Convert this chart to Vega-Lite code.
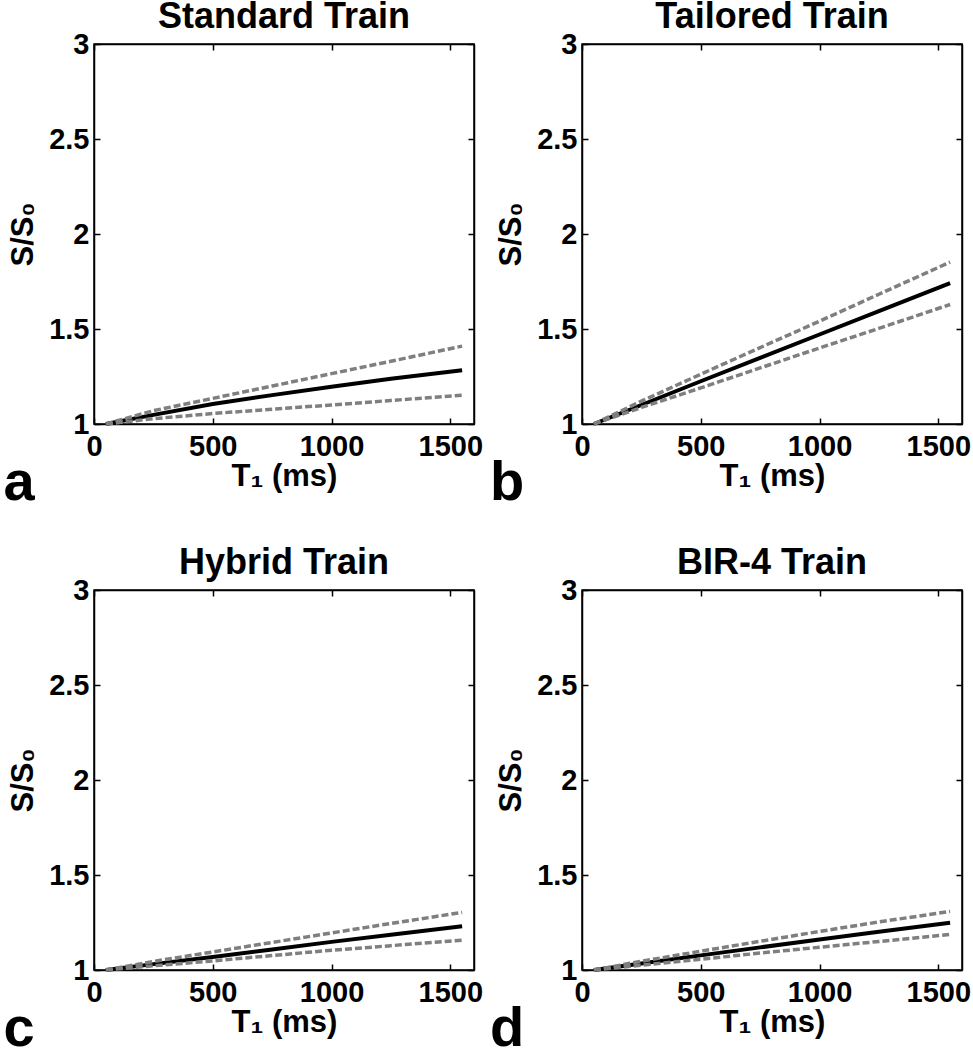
{
  "$schema": "https://vega.github.io/schema/vega-lite/v6.json",
  "padding": {"left": 2, "top": -2, "right": 0, "bottom": 0},
  "background": "white",
  "data": {"values": [
    {"panel": "a", "series": "mean", "t1": 50, "s": 1.0},
    {"panel": "a", "series": "mean", "t1": 250, "s": 1.048},
    {"panel": "a", "series": "mean", "t1": 500, "s": 1.105},
    {"panel": "a", "series": "mean", "t1": 750, "s": 1.152},
    {"panel": "a", "series": "mean", "t1": 1000, "s": 1.196},
    {"panel": "a", "series": "mean", "t1": 1250, "s": 1.238},
    {"panel": "a", "series": "mean", "t1": 1550, "s": 1.283},
    {"panel": "a", "series": "upper", "t1": 50, "s": 1.0},
    {"panel": "a", "series": "upper", "t1": 250, "s": 1.07},
    {"panel": "a", "series": "upper", "t1": 500, "s": 1.135},
    {"panel": "a", "series": "upper", "t1": 750, "s": 1.2},
    {"panel": "a", "series": "upper", "t1": 1000, "s": 1.265},
    {"panel": "a", "series": "upper", "t1": 1250, "s": 1.33},
    {"panel": "a", "series": "upper", "t1": 1550, "s": 1.41},
    {"panel": "a", "series": "lower", "t1": 50, "s": 1.0},
    {"panel": "a", "series": "lower", "t1": 250, "s": 1.028},
    {"panel": "a", "series": "lower", "t1": 500, "s": 1.055},
    {"panel": "a", "series": "lower", "t1": 750, "s": 1.078},
    {"panel": "a", "series": "lower", "t1": 1000, "s": 1.1},
    {"panel": "a", "series": "lower", "t1": 1250, "s": 1.124},
    {"panel": "a", "series": "lower", "t1": 1550, "s": 1.152},
    {"panel": "b", "series": "mean", "t1": 50, "s": 1.0},
    {"panel": "b", "series": "mean", "t1": 250, "s": 1.1},
    {"panel": "b", "series": "mean", "t1": 500, "s": 1.225},
    {"panel": "b", "series": "mean", "t1": 750, "s": 1.348},
    {"panel": "b", "series": "mean", "t1": 1000, "s": 1.471},
    {"panel": "b", "series": "mean", "t1": 1250, "s": 1.594},
    {"panel": "b", "series": "mean", "t1": 1550, "s": 1.742},
    {"panel": "b", "series": "upper", "t1": 50, "s": 1.0},
    {"panel": "b", "series": "upper", "t1": 250, "s": 1.12},
    {"panel": "b", "series": "upper", "t1": 500, "s": 1.262},
    {"panel": "b", "series": "upper", "t1": 750, "s": 1.402},
    {"panel": "b", "series": "upper", "t1": 1000, "s": 1.541},
    {"panel": "b", "series": "upper", "t1": 1250, "s": 1.683},
    {"panel": "b", "series": "upper", "t1": 1550, "s": 1.852},
    {"panel": "b", "series": "lower", "t1": 50, "s": 1.0},
    {"panel": "b", "series": "lower", "t1": 250, "s": 1.087},
    {"panel": "b", "series": "lower", "t1": 500, "s": 1.19},
    {"panel": "b", "series": "lower", "t1": 750, "s": 1.295},
    {"panel": "b", "series": "lower", "t1": 1000, "s": 1.4},
    {"panel": "b", "series": "lower", "t1": 1250, "s": 1.503},
    {"panel": "b", "series": "lower", "t1": 1550, "s": 1.629},
    {"panel": "c", "series": "mean", "t1": 50, "s": 1.0},
    {"panel": "c", "series": "mean", "t1": 250, "s": 1.031},
    {"panel": "c", "series": "mean", "t1": 500, "s": 1.069},
    {"panel": "c", "series": "mean", "t1": 750, "s": 1.108},
    {"panel": "c", "series": "mean", "t1": 1000, "s": 1.148},
    {"panel": "c", "series": "mean", "t1": 1250, "s": 1.186},
    {"panel": "c", "series": "mean", "t1": 1550, "s": 1.23},
    {"panel": "c", "series": "upper", "t1": 50, "s": 1.0},
    {"panel": "c", "series": "upper", "t1": 250, "s": 1.045},
    {"panel": "c", "series": "upper", "t1": 500, "s": 1.095},
    {"panel": "c", "series": "upper", "t1": 750, "s": 1.145},
    {"panel": "c", "series": "upper", "t1": 1000, "s": 1.195},
    {"panel": "c", "series": "upper", "t1": 1250, "s": 1.245},
    {"panel": "c", "series": "upper", "t1": 1550, "s": 1.303},
    {"panel": "c", "series": "lower", "t1": 50, "s": 1.0},
    {"panel": "c", "series": "lower", "t1": 250, "s": 1.022},
    {"panel": "c", "series": "lower", "t1": 500, "s": 1.048},
    {"panel": "c", "series": "lower", "t1": 750, "s": 1.076},
    {"panel": "c", "series": "lower", "t1": 1000, "s": 1.104},
    {"panel": "c", "series": "lower", "t1": 1250, "s": 1.128},
    {"panel": "c", "series": "lower", "t1": 1550, "s": 1.157},
    {"panel": "d", "series": "mean", "t1": 50, "s": 1.0},
    {"panel": "d", "series": "mean", "t1": 250, "s": 1.034},
    {"panel": "d", "series": "mean", "t1": 500, "s": 1.077},
    {"panel": "d", "series": "mean", "t1": 750, "s": 1.119},
    {"panel": "d", "series": "mean", "t1": 1000, "s": 1.161},
    {"panel": "d", "series": "mean", "t1": 1250, "s": 1.201},
    {"panel": "d", "series": "mean", "t1": 1550, "s": 1.249},
    {"panel": "d", "series": "upper", "t1": 50, "s": 1.0},
    {"panel": "d", "series": "upper", "t1": 250, "s": 1.046},
    {"panel": "d", "series": "upper", "t1": 500, "s": 1.099},
    {"panel": "d", "series": "upper", "t1": 750, "s": 1.151},
    {"panel": "d", "series": "upper", "t1": 1000, "s": 1.203},
    {"panel": "d", "series": "upper", "t1": 1250, "s": 1.253},
    {"panel": "d", "series": "upper", "t1": 1550, "s": 1.308},
    {"panel": "d", "series": "lower", "t1": 50, "s": 1.0},
    {"panel": "d", "series": "lower", "t1": 250, "s": 1.025},
    {"panel": "d", "series": "lower", "t1": 500, "s": 1.057},
    {"panel": "d", "series": "lower", "t1": 750, "s": 1.089},
    {"panel": "d", "series": "lower", "t1": 1000, "s": 1.12},
    {"panel": "d", "series": "lower", "t1": 1250, "s": 1.15},
    {"panel": "d", "series": "lower", "t1": 1550, "s": 1.187}
  ]},
  "columns": 2,
  "spacing": {"row": 166, "column": 108},
  "bounds": "flush",
  "concat": [
    {
      "width": 380, "height": 380,
      "title": {"text": "Standard Train", "frame": "group"},
      "layer": [
        {"transform": [{"filter": "datum.panel === 'a' && datum.series === 'mean'"}],
         "mark": {"type": "line", "color": "black", "strokeWidth": 4},
         "encoding": {
           "x": {"field": "t1", "type": "quantitative", "scale": {"domain": [0, 1600]}, "axis": {"orient": "bottom", "values": [0, 500, 1000, 1500], "format": "d", "title": "T₁ (ms)"}},
           "y": {"field": "s", "type": "quantitative", "scale": {"domain": [1, 3]}, "axis": {"orient": "left", "values": [1, 1.5, 2, 2.5, 3], "format": ".1~f", "title": "S/S₀"}}}},
        {"transform": [{"filter": "datum.panel === 'a' && datum.series !== 'mean'"}],
         "mark": {"type": "line", "color": "#7f7f7f", "strokeWidth": 3.5, "strokeDash": [7, 3]},
         "encoding": {
           "x": {"field": "t1", "type": "quantitative", "scale": {"domain": [0, 1600]}, "axis": {"orient": "top", "values": [0, 500, 1000, 1500], "labels": false, "title": null}},
           "y": {"field": "s", "type": "quantitative", "scale": {"domain": [1, 3]}, "axis": {"orient": "right", "values": [1, 1.5, 2, 2.5, 3], "labels": false, "title": null}},
           "detail": {"field": "series"}}},
        {"data": {"values": [{"letter": "a"}]},
         "mark": {"type": "text", "fontSize": 56, "fontWeight": "bold", "align": "center", "baseline": "alphabetic", "color": "black"},
         "encoding": {"x": {"datum": -315, "axis": null}, "y": {"datum": 0.6, "axis": null}, "text": {"field": "letter"}}}
      ],
      "resolve": {"axis": {"x": "independent", "y": "independent"}}
    },
    {
      "width": 380, "height": 380,
      "title": {"text": "Tailored Train", "frame": "group"},
      "layer": [
        {"transform": [{"filter": "datum.panel === 'b' && datum.series === 'mean'"}],
         "mark": {"type": "line", "color": "black", "strokeWidth": 4},
         "encoding": {
           "x": {"field": "t1", "type": "quantitative", "scale": {"domain": [0, 1600]}, "axis": {"orient": "bottom", "values": [0, 500, 1000, 1500], "format": "d", "title": "T₁ (ms)"}},
           "y": {"field": "s", "type": "quantitative", "scale": {"domain": [1, 3]}, "axis": {"orient": "left", "values": [1, 1.5, 2, 2.5, 3], "format": ".1~f", "title": "S/S₀"}}}},
        {"transform": [{"filter": "datum.panel === 'b' && datum.series !== 'mean'"}],
         "mark": {"type": "line", "color": "#7f7f7f", "strokeWidth": 3.5, "strokeDash": [7, 3]},
         "encoding": {
           "x": {"field": "t1", "type": "quantitative", "scale": {"domain": [0, 1600]}, "axis": {"orient": "top", "values": [0, 500, 1000, 1500], "labels": false, "title": null}},
           "y": {"field": "s", "type": "quantitative", "scale": {"domain": [1, 3]}, "axis": {"orient": "right", "values": [1, 1.5, 2, 2.5, 3], "labels": false, "title": null}},
           "detail": {"field": "series"}}},
        {"data": {"values": [{"letter": "b"}]},
         "mark": {"type": "text", "fontSize": 56, "fontWeight": "bold", "align": "center", "baseline": "alphabetic", "color": "black"},
         "encoding": {"x": {"datum": -315, "axis": null}, "y": {"datum": 0.6, "axis": null}, "text": {"field": "letter"}}}
      ],
      "resolve": {"axis": {"x": "independent", "y": "independent"}}
    },
    {
      "width": 380, "height": 380,
      "title": {"text": "Hybrid Train", "frame": "group"},
      "layer": [
        {"transform": [{"filter": "datum.panel === 'c' && datum.series === 'mean'"}],
         "mark": {"type": "line", "color": "black", "strokeWidth": 4},
         "encoding": {
           "x": {"field": "t1", "type": "quantitative", "scale": {"domain": [0, 1600]}, "axis": {"orient": "bottom", "values": [0, 500, 1000, 1500], "format": "d", "title": "T₁ (ms)"}},
           "y": {"field": "s", "type": "quantitative", "scale": {"domain": [1, 3]}, "axis": {"orient": "left", "values": [1, 1.5, 2, 2.5, 3], "format": ".1~f", "title": "S/S₀"}}}},
        {"transform": [{"filter": "datum.panel === 'c' && datum.series !== 'mean'"}],
         "mark": {"type": "line", "color": "#7f7f7f", "strokeWidth": 3.5, "strokeDash": [7, 3]},
         "encoding": {
           "x": {"field": "t1", "type": "quantitative", "scale": {"domain": [0, 1600]}, "axis": {"orient": "top", "values": [0, 500, 1000, 1500], "labels": false, "title": null}},
           "y": {"field": "s", "type": "quantitative", "scale": {"domain": [1, 3]}, "axis": {"orient": "right", "values": [1, 1.5, 2, 2.5, 3], "labels": false, "title": null}},
           "detail": {"field": "series"}}},
        {"data": {"values": [{"letter": "c"}]},
         "mark": {"type": "text", "fontSize": 56, "fontWeight": "bold", "align": "center", "baseline": "alphabetic", "color": "black"},
         "encoding": {"x": {"datum": -315, "axis": null}, "y": {"datum": 0.6, "axis": null}, "text": {"field": "letter"}}}
      ],
      "resolve": {"axis": {"x": "independent", "y": "independent"}}
    },
    {
      "width": 380, "height": 380,
      "title": {"text": "BIR-4 Train", "frame": "group"},
      "layer": [
        {"transform": [{"filter": "datum.panel === 'd' && datum.series === 'mean'"}],
         "mark": {"type": "line", "color": "black", "strokeWidth": 4},
         "encoding": {
           "x": {"field": "t1", "type": "quantitative", "scale": {"domain": [0, 1600]}, "axis": {"orient": "bottom", "values": [0, 500, 1000, 1500], "format": "d", "title": "T₁ (ms)"}},
           "y": {"field": "s", "type": "quantitative", "scale": {"domain": [1, 3]}, "axis": {"orient": "left", "values": [1, 1.5, 2, 2.5, 3], "format": ".1~f", "title": "S/S₀"}}}},
        {"transform": [{"filter": "datum.panel === 'd' && datum.series !== 'mean'"}],
         "mark": {"type": "line", "color": "#7f7f7f", "strokeWidth": 3.5, "strokeDash": [7, 3]},
         "encoding": {
           "x": {"field": "t1", "type": "quantitative", "scale": {"domain": [0, 1600]}, "axis": {"orient": "top", "values": [0, 500, 1000, 1500], "labels": false, "title": null}},
           "y": {"field": "s", "type": "quantitative", "scale": {"domain": [1, 3]}, "axis": {"orient": "right", "values": [1, 1.5, 2, 2.5, 3], "labels": false, "title": null}},
           "detail": {"field": "series"}}},
        {"data": {"values": [{"letter": "d"}]},
         "mark": {"type": "text", "fontSize": 56, "fontWeight": "bold", "align": "center", "baseline": "alphabetic", "color": "black"},
         "encoding": {"x": {"datum": -315, "axis": null}, "y": {"datum": 0.6, "axis": null}, "text": {"field": "letter"}}}
      ],
      "resolve": {"axis": {"x": "independent", "y": "independent"}}
    }
  ],
  "config": {
    "font": "Liberation Sans",
    "view": {"stroke": "black", "strokeWidth": 1.5},
    "line": {"strokeCap": "butt"},
    "axis": {
      "grid": false,
      "domainColor": "black", "domainWidth": 1.5,
      "tickColor": "black", "tickWidth": 1.5, "tickSize": -6,
      "labelFont": "Liberation Sans", "labelFontSize": 29, "labelFontWeight": "bold", "labelColor": "black",
      "labelOverlap": false, "labelFlush": false,
      "titleFont": "Liberation Sans", "titleFontSize": 31, "titleFontWeight": "bold", "titleColor": "black"
    },
    "axisX": {"labelPadding": 14, "titlePadding": 0},
    "axisY": {"labelPadding": 11, "titlePadding": 9},
    "title": {"font": "Liberation Sans", "fontSize": 36, "fontWeight": "bold", "color": "black", "offset": -6}
  }
}
